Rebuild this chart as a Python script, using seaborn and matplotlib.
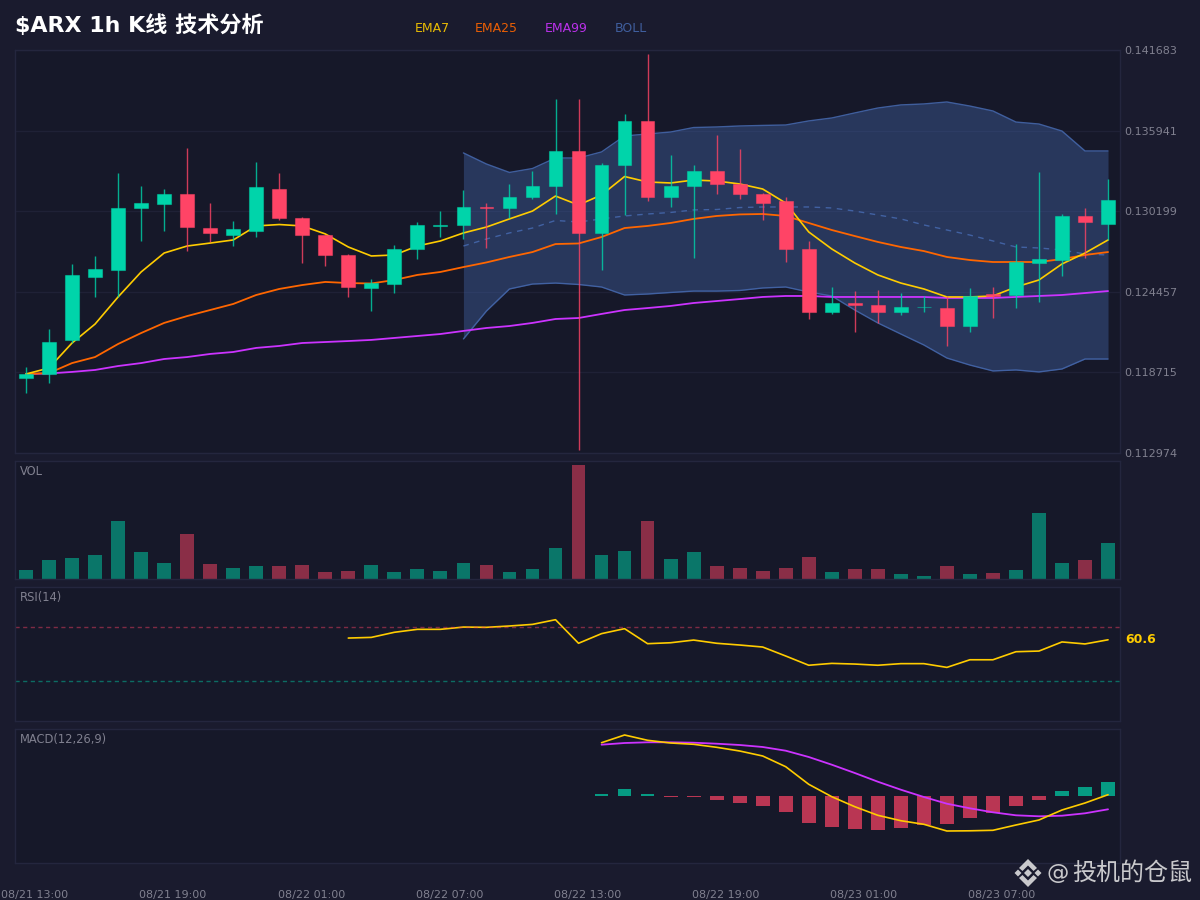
"""$ARX 1h candlestick chart with EMA, BOLL, volume, RSI and MACD panels"""

import numpy as np
import matplotlib
matplotlib.use("Agg")
import matplotlib.pyplot as plt
from matplotlib.colors import to_rgba
from matplotlib.patches import Polygon
import seaborn as sns

# values
opens = [0.11832, 0.11860, 0.12103, 0.12551, 0.12601, 0.13043, 0.13071, 0.13143, 0.12900, 0.12850, 0.12879, 0.13178,
         0.12972, 0.12850, 0.12708, 0.12473, 0.12501, 0.12751, 0.12915, 0.12922, 0.13050, 0.13043, 0.13121, 0.13200,
         0.13449, 0.12865, 0.13349, 0.13663, 0.13121, 0.13200, 0.13306, 0.13214, 0.13143, 0.13093, 0.12751, 0.12302,
         0.12366, 0.12352, 0.12302, 0.12334, 0.12330, 0.12202, 0.12430, 0.12423, 0.12651, 0.12672, 0.12986, 0.12929]
closes = [0.11860, 0.12088, 0.12566, 0.12608, 0.13043, 0.13078, 0.13143, 0.12907, 0.12865, 0.12893, 0.13192, 0.12972,
          0.12850, 0.12708, 0.12480, 0.12508, 0.12751, 0.12922, 0.12922, 0.13050, 0.13043, 0.13121, 0.13200, 0.13449,
          0.12865, 0.13349, 0.13663, 0.13121, 0.13200, 0.13306, 0.13214, 0.13143, 0.13078, 0.12751, 0.12302, 0.12366,
          0.12352, 0.12302, 0.12337, 0.12337, 0.12202, 0.12416, 0.12416, 0.12658, 0.12679, 0.12986, 0.12943, 0.13100]
highs = [0.11910, 0.12181, 0.12644, 0.12701, 0.13292, 0.13200, 0.13178, 0.13470, 0.13078, 0.12950, 0.13371, 0.13292,
         0.12979, 0.12850, 0.12715, 0.12537, 0.12779, 0.12943, 0.13021, 0.13171, 0.13078, 0.13214, 0.13306, 0.13819,
         0.13819, 0.13363, 0.13712, 0.14140, 0.13420, 0.13349, 0.13563, 0.13463, 0.13150, 0.13121, 0.12808, 0.12480,
         0.12451, 0.12459, 0.12437, 0.12416, 0.12416, 0.12473, 0.12480, 0.12786, 0.13299, 0.13000, 0.13043, 0.13249]
lows = [0.11725, 0.11796, 0.12081, 0.12409, 0.12409, 0.12808, 0.12879, 0.12736, 0.12801, 0.12772, 0.12836, 0.12957,
        0.12651, 0.12630, 0.12409, 0.12309, 0.12437, 0.12679, 0.12836, 0.12822, 0.12758, 0.12972, 0.13107, 0.13000,
        0.11319, 0.12601, 0.12993, 0.13093, 0.13050, 0.12687, 0.13143, 0.13107, 0.12957, 0.12658, 0.12252, 0.12288,
        0.12160, 0.12224, 0.12281, 0.12302, 0.12060, 0.12160, 0.12259, 0.12330, 0.12373, 0.12558, 0.12687, 0.12815]

ema7 = [0.11860, 0.11903, 0.12081, 0.12216, 0.12409, 0.12587, 0.12722, 0.12772, 0.12793, 0.12815, 0.12915, 0.12925,
        0.12915, 0.12858, 0.12765, 0.12701, 0.12708, 0.12772, 0.12808, 0.12865, 0.12907, 0.12965, 0.13021, 0.13128,
        0.13064, 0.13136, 0.13267, 0.13228, 0.13221, 0.13242, 0.13235, 0.13214, 0.13178, 0.13078, 0.12872, 0.12751,
        0.12651, 0.12566, 0.12508, 0.12466, 0.12409, 0.12409, 0.12416, 0.12480, 0.12530, 0.12644, 0.12722, 0.12815]
ema25 = [0.11860, 0.11867, 0.11938, 0.11981, 0.12074, 0.12152, 0.12224, 0.12273, 0.12316, 0.12359, 0.12423, 0.12466,
         0.12494, 0.12516, 0.12508, 0.12505, 0.12530, 0.12566, 0.12587, 0.12622, 0.12655, 0.12694, 0.12729, 0.12786,
         0.12790, 0.12836, 0.12900, 0.12915, 0.12936, 0.12965, 0.12986, 0.12997, 0.13000, 0.12986, 0.12936, 0.12886,
         0.12843, 0.12801, 0.12765, 0.12736, 0.12694, 0.12672, 0.12658, 0.12658, 0.12658, 0.12679, 0.12708, 0.12729]
ema99 = [0.11860, 0.11864, 0.11875, 0.11889, 0.11917, 0.11938, 0.11967, 0.11981, 0.12003, 0.12017, 0.12046, 0.12060,
         0.12081, 0.12088, 0.12095, 0.12103, 0.12117, 0.12131, 0.12145, 0.12167, 0.12188, 0.12202, 0.12224, 0.12252,
         0.12259, 0.12288, 0.12316, 0.12330, 0.12345, 0.12366, 0.12380, 0.12394, 0.12409, 0.12416, 0.12416, 0.12409,
         0.12409, 0.12409, 0.12409, 0.12409, 0.12402, 0.12402, 0.12402, 0.12409, 0.12416, 0.12423, 0.12437, 0.12451]

# bollinger bands start at candle 19, rsi at 14, macd at 25
boll_upper = [0.13435, 0.13356, 0.13296, 0.13324, 0.13399, 0.13399, 0.13442, 0.13556, 0.13570, 0.13584, 0.13616, 0.13620,
              0.13627, 0.13631, 0.13634, 0.13663, 0.13684, 0.13720, 0.13755, 0.13777, 0.13784, 0.13798, 0.13769, 0.13734,
              0.13655, 0.13641, 0.13591, 0.13449, 0.13449]
boll_mid = [0.12772, 0.12822, 0.12865, 0.12900, 0.12954, 0.12943, 0.12965, 0.12986, 0.13000, 0.13011, 0.13029, 0.13032,
            0.13046, 0.13050, 0.13050, 0.13050, 0.13043, 0.13021, 0.12993, 0.12965, 0.12922, 0.12886, 0.12850, 0.12808,
            0.12765, 0.12758, 0.12744, 0.12715, 0.12708]
boll_lower = [0.12110, 0.12309, 0.12466, 0.12501, 0.12508, 0.12498, 0.12480, 0.12423, 0.12430, 0.12441, 0.12451, 0.12451,
              0.12455, 0.12473, 0.12480, 0.12444, 0.12416, 0.12316, 0.12224, 0.12145, 0.12067, 0.11974, 0.11924, 0.11882,
              0.11889, 0.11875, 0.11896, 0.11967, 0.11967]

volume = [8.7, 18.7, 20.7, 23.7, 57.7, 27.3, 16, 44.7, 14.7, 11, 13.3, 12.7, 13.7, 7.3, 8.3, 13.7, 7.3, 10.3, 7.7, 16,
          13.7, 6.7, 10.3, 31, 113.7, 23.7, 28.3, 57.7, 20, 27, 12.7, 11, 7.7, 11.3, 22, 7.3, 9.7, 9.7, 4.7, 2.7, 13.3,
          5.3, 6.3, 8.7, 66, 15.7, 19, 35.7]

rsi = [61.9, 62.4, 66.2, 68.4, 68.4, 70.1, 69.9, 70.9, 72.1, 75.6, 58, 65.2, 68.9, 57.7, 58.4, 60.4, 58, 56.7, 55.2,
       48.5, 41.6, 43, 42.5, 41.6, 42.8, 42.8, 40, 45.7, 45.7, 51.7, 52.2, 59, 57.5, 60.6]

# macd values in units of 1e-5
macd_line = [53.3, 61, 55.7, 53, 51.7, 48.7, 45, 40, 29.3, 11.7, -0.7, -10.7, -19.3, -24.7, -28.3, -35, -34.8, -34.3,
             -29, -24, -14, -7, 1.3]
macd_signal = [51.3, 53, 53.7, 53.7, 53.3, 52.3, 51, 49, 45.3, 39, 31.3, 23, 14.3, 6.3, -1, -7.7, -12.3, -16.3, -19.3,
               -20.3, -19.7, -17.3, -13.3]
macd_hist = [1.7, 7.3, 2, -0.7, -1, -4, -6.7, -9.7, -16, -26.7, -31.3, -33, -33.7, -31.7, -29, -27.7, -22, -17.3, -9.7,
             -4, 5, 9.3, 14]

price_ticks = [0.141683, 0.135941, 0.130199, 0.124457, 0.118715, 0.112974]
time_labels = ["08/21 13:00", "08/21 19:00", "08/22 01:00", "08/22 07:00",
               "08/22 13:00", "08/22 19:00", "08/23 01:00", "08/23 07:00"]

BG = "#1a1b2e"
PANEL = "#161829"
EDGE = "#24263e"
GRID = "#1f2136"
TEXT = "#80808f"
UP = "#00d4aa"
DOWN = "#ff4466"
YELLOW = "#ffcc00"
ORANGE = "#ff6600"
PURPLE = "#cc33ff"
BOLL = "#4466aa"
LOGO = "#c9c9cc"

sns.set_theme(style="dark", rc={"figure.facecolor": BG, "axes.facecolor": PANEL, "axes.edgecolor": EDGE,
                                "axes.linewidth": 1.0, "xtick.color": TEXT, "ytick.color": TEXT})
plt.rcParams["font.family"] = ["DejaVu Sans", "Noto Sans CJK SC"]

W, H = 1200, 900


def panel(top, bottom):
    return fig.add_axes([15 / W, 1 - bottom / H, 1105 / W, (bottom - top) / H])


def direction(values):
    return ["up" if v >= 0 else "down" for v in values]


def logo_shape(points):
    fig.add_artist(Polygon([(x / W, 1 - y / H) for x, y in points], closed=True, transform=fig.transFigure,
                           facecolor=LOGO, edgecolor="none"))


fig = plt.figure(figsize=(12, 9), dpi=100)
ax_k = panel(50, 453)
ax_vol = panel(461, 579)
ax_rsi = panel(587, 721)
ax_macd = panel(729, 863)

idx = np.arange(len(opens))
opens, closes = np.array(opens), np.array(closes)
candle_dir = direction(closes - opens)
colors = [UP if d == "up" else DOWN for d in candle_dir]

# price panel
boll_x = idx[19:]
ax_k.fill_between(boll_x, boll_lower, boll_upper, color=BOLL, alpha=0.4, lw=0, zorder=1)
sns.lineplot(x=boll_x, y=boll_upper, ax=ax_k, color=BOLL, lw=1, alpha=0.9, zorder=2)
sns.lineplot(x=boll_x, y=boll_lower, ax=ax_k, color=BOLL, lw=1, alpha=0.9, zorder=2)
sns.lineplot(x=boll_x, y=boll_mid, ax=ax_k, color=BOLL, lw=1, alpha=0.9, zorder=2, linestyle=(0, (4, 4)))
sns.lineplot(x=idx, y=ema7, ax=ax_k, color=YELLOW, lw=1.2, zorder=2.3)
sns.lineplot(x=idx, y=ema25, ax=ax_k, color=ORANGE, lw=1.3, zorder=2.2)
sns.lineplot(x=idx, y=ema99, ax=ax_k, color=PURPLE, lw=1.3, zorder=2.1)
ax_k.vlines(idx, lows, highs, colors=colors, lw=1, alpha=0.8, zorder=3)
ax_k.bar(idx, np.abs(closes - opens), bottom=np.minimum(opens, closes), width=0.6, color=colors,
         edgecolor=[to_rgba(c, 0.5) for c in colors], lw=0.8, zorder=4)
ax_k.set_ylim(price_ticks[-1], price_ticks[0])
ax_k.set_yticks(price_ticks)
ax_k.set_yticklabels([f"{t:.6f}" for t in price_ticks])
ax_k.yaxis.tick_right()
ax_k.tick_params(axis="y", length=0, pad=3.2, labelsize=8)
ax_k.grid(axis="y", color=GRID, lw=1)
ax_k.set_axisbelow(True)

# volume panel
sns.barplot(x=idx, y=volume, hue=candle_dir, palette={"up": UP, "down": DOWN}, dodge=False, native_scale=True,
            width=0.6, saturation=1, alpha=0.5, legend=False, linewidth=0, edgecolor="none", ax=ax_vol)
ax_vol.set_ylim(0, 118)

# rsi panel
sns.lineplot(x=idx[14:], y=rsi, ax=ax_rsi, color=YELLOW, lw=1.2)
ax_rsi.axhline(70, color=DOWN, lw=1, ls=(0, (3, 2.5)), alpha=0.45)
ax_rsi.axhline(30, color=UP, lw=1, ls=(0, (3, 2.5)), alpha=0.45)
ax_rsi.set_ylim(0, 100)
ax_rsi.text(1.0045, rsi[-1], f"{rsi[-1]:.1f}", transform=ax_rsi.get_yaxis_transform(), color=YELLOW,
            fontsize=9, fontweight="bold", va="center")

# macd panel
macd_x = idx[25:]
sns.barplot(x=macd_x, y=macd_hist, hue=direction(macd_hist), palette={"up": UP, "down": DOWN}, dodge=False,
            native_scale=True, width=0.6, saturation=1, alpha=0.7, legend=False, linewidth=0, edgecolor="none",
            ax=ax_macd)
sns.lineplot(x=macd_x, y=macd_signal, ax=ax_macd, color=PURPLE, lw=1.3)
sns.lineplot(x=macd_x, y=macd_line, ax=ax_macd, color=YELLOW, lw=1.2)
ax_macd.set_ylim(-67, 67)

for ax, name in [(ax_vol, "VOL"), (ax_rsi, "RSI(14)"), (ax_macd, "MACD(12,26,9)")]:
    ax.set_yticks([])
    ax.annotate(name, (0, 1), xycoords="axes fraction", xytext=(3.6, -3), textcoords="offset points",
                color=TEXT, fontsize=8.3, va="top")

for ax in [ax_k, ax_vol, ax_rsi, ax_macd]:
    ax.set_xlim(-0.478, 47.52)
    ax.set_xticks([])
    ax.set_xlabel("")
    ax.set_ylabel("")
    for spine in ax.spines.values():
        spine.set_color(EDGE)

ax_macd.set_xticks(np.arange(0, 48, 6) + 0.39)
ax_macd.set_xticklabels(time_labels)
ax_macd.tick_params(axis="x", length=0, pad=19.5, labelsize=8, labelcolor=TEXT)

# header
fig.text(15 / W, 1 - 25 / H, "$ARX 1h K线 技术分析", color="white", fontsize=15.9, fontweight="bold", va="center")
for x, label, c in [(415, "EMA7", YELLOW), (475, "EMA25", ORANGE), (545, "EMA99", PURPLE), (615, "BOLL", BOLL)]:
    fig.text(x / W, 1 - 28 / H, label, color=c, fontsize=9, va="center", alpha=0.9)

# watermark: logo made of two chevrons and three small diamonds
cx, cy = 1028, 873
for sign in (-1, 1):
    logo_shape([(cx, cy + sign * 14), (cx + 9, cy + sign * 5), (cx + 5.5, cy + sign * 2), (cx, cy + sign * 7.5),
                (cx - 5.5, cy + sign * 2), (cx - 9, cy + sign * 5)])
for dx, half in [(-10, 3.5), (0, 4), (10, 3.5)]:
    logo_shape([(cx + dx, cy - half), (cx + dx + half, cy), (cx + dx, cy + half), (cx + dx - half, cy)])
fig.text(1046 / W, 1 - 873 / H, "@", color=LOGO, fontsize=16, va="center")
fig.text(1072 / W, 1 - 873 / H, "投机的仓鼠", color=LOGO, fontsize=17.3, va="center", family=["Noto Sans CJK SC"])

plt.savefig("out.png", dpi=100, facecolor=BG)
plt.close()
